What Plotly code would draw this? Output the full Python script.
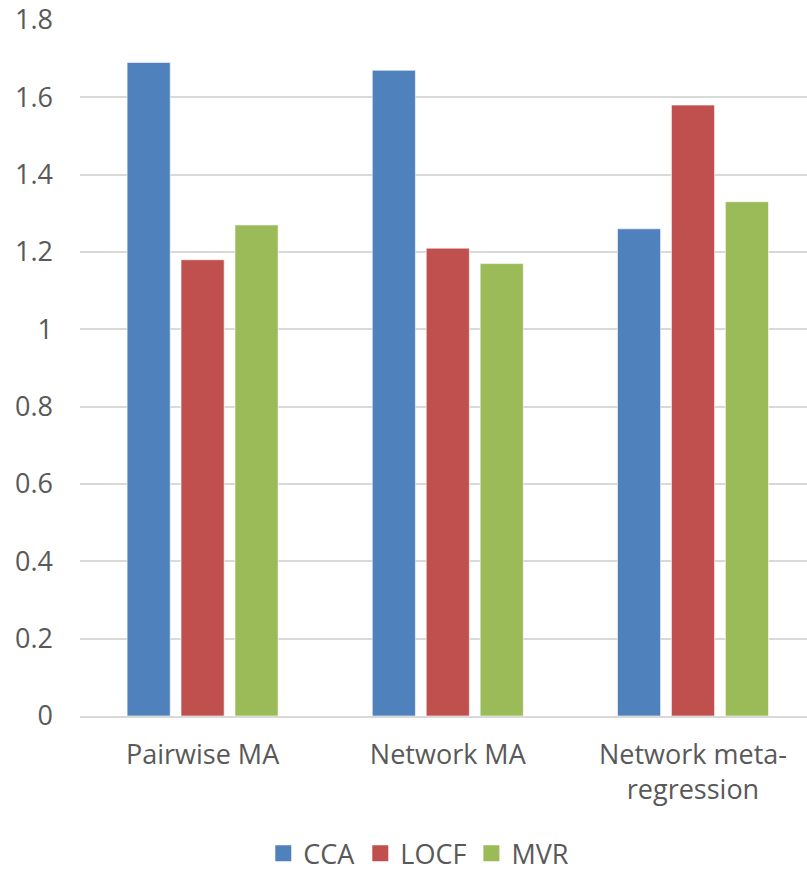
import plotly.graph_objects as go

categories = ["Pairwise MA", "Network MA", "Network meta-<br>regression"]
cca = [1.69, 1.67, 1.26]
locf = [1.18, 1.21, 1.58]
mvr = [1.27, 1.17, 1.33]

series = [("CCA", cca, "#4F81BD"), ("LOCF", locf, "#C0504D"), ("MVR", mvr, "#9BBB59")]

fig = go.Figure()
for name, vals, color in series:
    fig.add_trace(go.Bar(
        x=categories, y=vals, name=name, showlegend=False,
        marker=dict(color=color, line=dict(color="rgba(255,255,255,0.6)", width=1)),
    ))
# legend entries drawn as larger square swatches
for name, vals, color in series:
    fig.add_trace(go.Scatter(
        x=[None], y=[None], name=name, mode="markers",
        marker=dict(symbol="square", size=18, color=color),
    ))

font_family = "Open Sans, Liberation Sans, sans-serif"
fig.update_layout(
    width=807, height=872,
    margin=dict(l=80, r=0, t=20, b=156, autoexpand=False),
    paper_bgcolor="white", plot_bgcolor="white",
    barmode="group", bargap=0.34, bargroupgap=0.2,
    font=dict(family=font_family, size=27, color="#595959"),
    showlegend=True,
    legend=dict(orientation="h", x=0.466, xanchor="center", y=-0.198, yanchor="middle",
                font=dict(size=27, color="#595959"), traceorder="normal"),
)
fig.update_xaxes(range=[-0.5, 2.465], showgrid=False, showline=True, linecolor="#D9D9D9",
                 linewidth=1.5, ticks="", ticklabelstandoff=14, tickfont=dict(size=27),
                 automargin=False)
fig.update_yaxes(range=[0, 1.8], dtick=0.2, tickformat="~g", showgrid=True, gridcolor="#D9D9D9",
                 gridwidth=1.5, zeroline=False, showline=False, ticks="",
                 ticklabelstandoff=26, tickfont=dict(size=27), automargin=False)

fig.write_html("out.html")
